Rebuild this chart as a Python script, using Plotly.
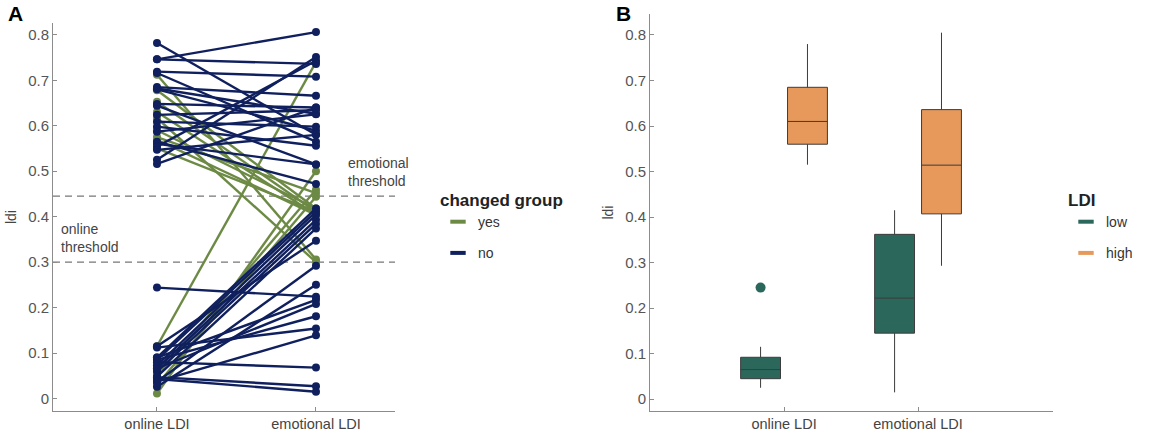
import plotly.graph_objects as go

# ---------------- data ----------------
categories = ["online LDI", "emotional LDI"]

# Panel A: paired LDI values per participant
online_ldi = [0.782, 0.746, 0.746, 0.719, 0.716, 0.685, 0.682, 0.680, 0.648, 0.644,
              0.624, 0.609, 0.598, 0.565, 0.560, 0.554, 0.547, 0.525, 0.516, 0.587,
              0.712, 0.678, 0.653, 0.630, 0.617, 0.590, 0.575, 0.569, 0.550,
              0.115, 0.011, 0.050, 0.030,
              0.244, 0.115, 0.090, 0.085, 0.073, 0.066, 0.059, 0.048, 0.037, 0.026,
              0.112, 0.090, 0.085, 0.080, 0.066, 0.047, 0.043, 0.037]
emotional_ldi = [0.580, 0.806, 0.736, 0.708, 0.565, 0.666, 0.626, 0.589, 0.640, 0.515,
                 0.634, 0.598, 0.556, 0.472, 0.515, 0.743, 0.580, 0.751, 0.640, 0.625,
                 0.306, 0.418, 0.411, 0.404, 0.300, 0.418, 0.452, 0.404, 0.411,
                 0.740, 0.500, 0.459, 0.444,
                 0.224, 0.347, 0.418, 0.411, 0.404, 0.393, 0.384, 0.374, 0.292, 0.250,
                 0.154, 0.217, 0.181, 0.068, 0.208, 0.027, 0.015, 0.139]
changed = (["no"] * 20) + (["yes"] * 9) + (["yes"] * 4) + (["no"] * 18)

online_threshold = 0.30
emotional_threshold = 0.445

# Panel B: box statistics per LDI group
ldi_groups = ["low", "high"]
box_q1 = {"low": [0.045, 0.145], "high": [0.560, 0.407]}
box_median = {"low": [0.065, 0.222], "high": [0.610, 0.514]}
box_q3 = {"low": [0.092, 0.362], "high": [0.685, 0.636]}
box_lower = {"low": [0.025, 0.015], "high": [0.515, 0.293]}
box_upper = {"low": [0.115, 0.415], "high": [0.780, 0.805]}
box_outliers = {"low": [[0.245], []], "high": None}

# ---------------- styles ----------------
group_colors = {"yes": "#6d8a45", "no": "#10205e"}
ldi_colors = {"low": "#2b685b", "high": "#e6995a"}
FONT = "Liberation Sans, Arial, sans-serif"
TICK_COLOR = "#555555"
AXIS_COLOR = "#8c8c8c"

fig = go.Figure()

# Panel A lines (green first, navy on top)
for grp in ["yes", "no"]:
    xs, ys = [], []
    for o, e, c in zip(online_ldi, emotional_ldi, changed):
        if c == grp:
            xs += [categories[0], categories[1], None]
            ys += [o, e, None]
    fig.add_trace(go.Scatter(
        x=xs, y=ys, mode="lines+markers", xaxis="x", yaxis="y",
        line=dict(color=group_colors[grp], width=2.4),
        marker=dict(color=group_colors[grp], size=8),
        showlegend=False, hoverinfo="skip", connectgaps=False))

# legend entries for panel A
for grp in ["yes", "no"]:
    fig.add_trace(go.Scatter(
        x=[None], y=[None], mode="markers", name=grp, xaxis="x", yaxis="y",
        marker=dict(symbol="line-ew", size=11, line=dict(width=4, color=group_colors[grp])),
        legend="legend", legendgroup=grp))

# Panel B boxes
for grp in ldi_groups:
    kw = dict(
        x=categories, q1=box_q1[grp], median=box_median[grp], q3=box_q3[grp],
        lowerfence=box_lower[grp], upperfence=box_upper[grp],
        xaxis="x2", yaxis="y2", name=grp,
        fillcolor=ldi_colors[grp], line=dict(color="#3c3c3c", width=1),
        marker=dict(color=ldi_colors[grp], size=10, line=dict(width=0)),
        whiskerwidth=0, showlegend=False, offsetgroup=grp)
    if box_outliers[grp] is not None:
        kw.update(y=box_outliers[grp], boxpoints="outliers", pointpos=0, jitter=0)
    else:
        kw.update(boxpoints=False)
    fig.add_trace(go.Box(**kw))

for grp in ldi_groups:
    fig.add_trace(go.Scatter(
        x=[None], y=[None], mode="markers", name=grp, xaxis="x2", yaxis="y2",
        marker=dict(symbol="line-ew", size=11, line=dict(width=4, color=ldi_colors[grp])),
        legend="legend2", legendgroup=grp))

axis_common = dict(
    showline=True, linecolor=AXIS_COLOR, linewidth=1, showgrid=False, zeroline=False,
    ticks="inside", ticklen=4, tickcolor=AXIS_COLOR,
)
yfont = dict(family=FONT, size=15, color=TICK_COLOR)
xfont = dict(family=FONT, size=14.5, color="#444444")
ytv = [0, 0.1, 0.2, 0.3, 0.4, 0.5, 0.6, 0.7, 0.8]
ytt = ["0", "0.1", "0.2", "0.3", "0.4", "0.5", "0.6", "0.7", "0.8"]

W, H = 1166, 439
fig.update_layout(
    width=W, height=H, margin=dict(l=0, r=0, t=0, b=0),
    paper_bgcolor="white", plot_bgcolor="white",
    font=dict(family=FONT, color="#444444"),
    boxmode="group", boxgap=0.3, boxgroupgap=0.15,
    xaxis=dict(axis_common, domain=[53 / W, 395 / W], type="category",
               categoryorder="array", categoryarray=categories, tickfont=xfont,
               range=[-0.654, 1.497], anchor="y"),
    yaxis=dict(axis_common, domain=[(H - 411) / H, (H - 23) / H], tickfont=yfont,
               range=[-0.0275, 0.826], tickvals=ytv, ticktext=ytt,
               title=dict(text="ldi", font=dict(size=14, color="#444"), standoff=8),
               anchor="x"),
    xaxis2=dict(axis_common, domain=[650 / W, 1053 / W], type="category",
                categoryorder="array", categoryarray=categories, tickfont=xfont,
                range=[-1.0, 2.007], anchor="y2"),
    yaxis2=dict(axis_common, domain=[(H - 411) / H, (H - 14) / H], tickfont=yfont,
                range=[-0.026, 0.846], tickvals=ytv, ticktext=ytt,
                title=dict(text="ldi", font=dict(size=14, color="#444"), standoff=8),
                anchor="x2"),
    legend=dict(title=dict(text="<b>changed group</b>", font=dict(size=17, color="#222")),
                x=438 / W, xanchor="left", y=1 - 184 / H, yanchor="top",
                font=dict(size=14, color="#333"), tracegroupgap=10,
                bgcolor="rgba(0,0,0,0)"),
    legend2=dict(title=dict(text="<b>LDI</b>", font=dict(size=17, color="#222")),
                 x=1066 / W, xanchor="left", y=1 - 184 / H, yanchor="top",
                 font=dict(size=14, color="#333"), tracegroupgap=10,
                 bgcolor="rgba(0,0,0,0)"),
)

# threshold lines
for thr in [online_threshold, emotional_threshold]:
    fig.add_shape(type="line", xref="x domain", yref="y", x0=0, x1=1, y0=thr, y1=thr,
                  line=dict(color="#777777", width=1.2, dash="7px,5px"), layer="below")

fig.add_annotation(text="online<br>threshold", xref="paper", yref="y", x=59 / W, y=0.352,
                   xanchor="left", yanchor="middle", showarrow=False, align="left",
                   font=dict(size=14, color="#444"))
fig.add_annotation(text="emotional<br>threshold", xref="paper", yref="y", x=346 / W, y=0.499,
                   xanchor="left", yanchor="middle", showarrow=False, align="left",
                   font=dict(size=14, color="#444"))

# panel letters
fig.add_annotation(text="<b>A</b>", xref="paper", yref="paper", x=6 / W, y=1 - 14 / H,
                   xanchor="left", yanchor="middle", showarrow=False,
                   font=dict(size=21, color="black"))
fig.add_annotation(text="<b>B</b>", xref="paper", yref="paper", x=614 / W, y=1 - 14 / H,
                   xanchor="left", yanchor="middle", showarrow=False,
                   font=dict(size=21, color="black"))

fig.write_html("out.html")
